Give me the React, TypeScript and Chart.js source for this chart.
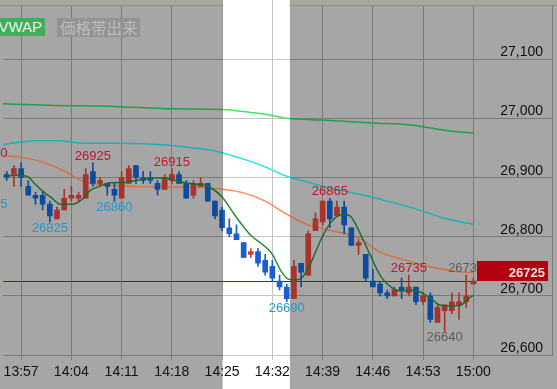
import React, { useEffect, useRef } from "react";
import { Chart, registerables } from "chart.js";

Chart.register(...registerables);

// ---- axis ranges (minutes after 13:00, price in yen) ----
const X_MIN = 54.5;
const X_MAX = 130.95;
const Y_MIN = 26600;
const Y_MAX = 27200;
const BAND_START = 85.07;
const BAND_END = 94.43;

const xTickValues = [57, 64, 71, 78, 85, 92, 99, 106, 113, 120];
const xTickLabels = ["13:57", "14:04", "14:11", "14:18", "14:25", "14:32", "14:39", "14:46", "14:53", "15:00"];
const yTickValues = [26600, 26700, 26800, 26900, 27000, 27100];

// ---- 1-minute candles ----
const candleMinutes = [
  55, 56, 57, 58, 59, 60, 61, 62, 63, 64,
  65, 66, 67, 68, 69, 70, 71, 72, 73, 74,
  75, 76, 77, 78, 79, 80, 81, 82, 83, 84,
  85, 86, 87, 88, 89, 90, 91, 92, 93, 94,
  95, 96, 97, 98, 99, 100, 101, 102, 103, 104,
  105, 106, 107, 108, 109, 110, 111, 112, 113, 114,
  115, 116, 117, 118, 119, 120,
];
const opens = [
  26905, 26905, 26915, 26885, 26870, 26870, 26855, 26830, 26845, 26865,
  26865, 26865, 26910, 26890, 26890, 26880, 26865, 26890, 26920, 26900,
  26900, 26890, 26880, 26895, 26905, 26890, 26870, 26885, 26890, 26860,
  26845, 26815, 26805, 26790, 26770, 26775, 26760, 26750, 26725, 26715,
  26695, 26755, 26735, 26810, 26825, 26860, 26835, 26850, 26815, 26785,
  26770, 26725, 26720, 26705, 26700, 26715, 26705, 26715, 26690, 26700,
  26655, 26675, 26675, 26685, 26690, 26720,
];
const highs = [
  26910, 26920, 26925, 26895, 26875, 26875, 26860, 26850, 26880, 26885,
  26875, 26915, 26925, 26900, 26890, 26890, 26910, 26920, 26920, 26910,
  26910, 26895, 26905, 26915, 26910, 26895, 26895, 26900, 26890, 26860,
  26850, 26830, 26820, 26790, 26780, 26780, 26770, 26760, 26735, 26720,
  26760, 26755, 26810, 26840, 26860, 26865, 26860, 26860, 26815, 26795,
  26770, 26745, 26725, 26710, 26715, 26730, 26735, 26715, 26705, 26705,
  26685, 26685, 26705, 26705, 26735, 26730,
];
const lows = [
  26895, 26885, 26885, 26870, 26855, 26845, 26825, 26830, 26845, 26860,
  26860, 26865, 26885, 26885, 26870, 26860, 26865, 26890, 26890, 26890,
  26890, 26870, 26880, 26890, 26890, 26865, 26865, 26885, 26860, 26830,
  26810, 26800, 26795, 26765, 26765, 26750, 26735, 26725, 26710, 26690,
  26695, 26715, 26735, 26810, 26820, 26815, 26835, 26805, 26785, 26770,
  26725, 26715, 26700, 26695, 26700, 26695, 26700, 26685, 26685, 26655,
  26655, 26640, 26670, 26660, 26680, 26720,
];
const closes = [
  26900, 26915, 26900, 26870, 26865, 26855, 26835, 26845, 26865, 26870,
  26870, 26905, 26890, 26895, 26885, 26870, 26900, 26915, 26900, 26895,
  26895, 26880, 26900, 26905, 26890, 26865, 26890, 26890, 26860, 26835,
  26815, 26805, 26795, 26765, 26775, 26755, 26740, 26730, 26715, 26695,
  26750, 26740, 26805, 26830, 26860, 26830, 26850, 26820, 26785, 26790,
  26730, 26715, 26705, 26700, 26710, 26710, 26715, 26690, 26700, 26660,
  26680, 26685, 26690, 26690, 26700, 26725,
];

// ---- moving-average style lines ----
const longLineMinutes = [54, 61, 70, 78, 85, 89, 91, 94, 99, 106, 111, 116, 120];
const longLineValues = [27025, 27022, 27020, 27016, 27015, 27010, 27007, 27000, 26997, 26992, 26989, 26980, 26975];

const cyanLineMinutes = [54, 57, 59, 62, 66, 70, 74, 78, 81, 83, 85, 88, 91, 94, 97, 100, 104, 108, 112, 116, 120];
const cyanLineValues = [26955, 26960, 26962, 26962, 26958, 26958, 26957, 26954, 26950, 26947, 26942, 26931, 26918, 26902, 26892, 26882, 26872, 26860, 26847, 26831, 26821];

const orangeLineMinutes = [54, 57, 60, 63, 66, 69, 72, 76, 80, 85, 88, 91, 94, 97, 100, 104, 107, 110, 113, 116, 119, 120];
const orangeLineValues = [26937, 26934, 26926, 26911, 26892, 26887, 26885, 26884, 26884, 26880, 26874, 26860, 26838, 26820, 26811, 26798, 26774, 26762, 26752, 26744, 26740, 26740];

const shortLineMinutes = [
  54.5, 56.6, 58.0, 58.7, 60.0, 61.4, 62.4, 64.2, 65.6, 66.5, 67.9, 69.3, 71.5, 73.9, 75.3, 76.7,
  79.4, 81.2, 83.2, 85.0, 86.4, 87.7, 89.1, 90.5, 91.9, 93.3, 94.3, 95.4, 96.1, 97.4, 98.8, 100.2,
  101.9, 103.0, 104.4, 105.7, 107.1, 108.5, 109.9, 111.3, 112.7, 114.1, 115.4, 116.8, 118.2, 119.3, 120,
];
const shortLineValues = [
  26902, 26904, 26901, 26892, 26877, 26864, 26855, 26855, 26864, 26877, 26885, 26891, 26892, 26897, 26899, 26899,
  26892, 26889, 26884, 26867, 26843, 26821, 26801, 26788, 26772, 26740, 26728, 26727, 26730, 26757, 26796, 26825,
  26838, 26833, 26801, 26767, 26733, 26715, 26708, 26710, 26706, 26695, 26684, 26683, 26684, 26695, 26701,
];

// ---- high / low annotations ----
const highLabelMinutes = [52.6, 67, 78, 100, 111];
const highLabelValues = [26930, 26925, 26915, 26865, 26735];
const lowLabelMinutes = [52.6, 61, 70, 94];
const lowLabelValues = [26865, 26825, 26860, 26690];
const grayLowMinutes = [116];
const grayLowValues = [26640];
const grayHighMinutes = [119];
const grayHighValues = [26735];

const currentPrice = closes[closes.length - 1];

const FONT = '"Liberation Sans", Arial, sans-serif';

function bandGradient(chart: any, dim: string, bright: string) {
  const xs = chart.scales && chart.scales.x;
  if (!xs || !chart.chartArea) return dim;
  const w = chart.width;
  const a = Math.max(0, Math.min(1, xs.getPixelForValue(BAND_START) / w));
  const b = Math.max(0, Math.min(1, xs.getPixelForValue(BAND_END) / w));
  const g = chart.ctx.createLinearGradient(0, 0, w, 0);
  g.addColorStop(0, dim);
  g.addColorStop(a, dim);
  g.addColorStop(a, bright);
  g.addColorStop(b, bright);
  g.addColorStop(b, dim);
  g.addColorStop(1, dim);
  return g;
}

function candleColor(ctx: any) {
  const i = ctx.dataIndex;
  if (i === undefined) return "#0f4b9c";
  const up = closes[i] >= opens[i];
  return up
    ? bandGradient(ctx.chart, "#a8322c", "#d83a3a")
    : bandGradient(ctx.chart, "#0f4b9c", "#1a5fd0");
}

const decorPlugin = {
  id: "decor",
  beforeDraw(chart: any) {
    const { ctx, width, height } = chart;
    const xs = chart.scales.x;
    ctx.save();
    ctx.fillStyle = "#a6a6a6";
    ctx.fillRect(0, 0, width, height);
    const b0 = xs.getPixelForValue(BAND_START);
    const b1 = xs.getPixelForValue(BAND_END);
    ctx.fillStyle = "#ffffff";
    ctx.fillRect(b0, 0, b1 - b0, height);
    ctx.restore();
  },
  beforeDatasetsDraw(chart: any) {
    const { ctx, chartArea } = chart;
    const xs = chart.scales.x;
    const ys = chart.scales.y;
    const b0 = xs.getPixelForValue(BAND_START);
    const b1 = xs.getPixelForValue(BAND_END);
    ctx.save();
    ctx.fillStyle = "rgba(255,255,255,0.55)";
    ctx.fillRect(b0, 0, b1 - b0, chartArea.bottom + 7);
    // current price line
    const py = Math.round(ys.getPixelForValue(currentPrice)) + 0.5;
    ctx.strokeStyle = "#8e1212";
    ctx.lineWidth = 1;
    ctx.beginPath();
    ctx.moveTo(chartArea.left, py);
    ctx.lineTo(chartArea.right - 75, py);
    ctx.stroke();
    ctx.restore();
  },
  afterDatasetsDraw(chart: any) {
    const { ctx, chartArea } = chart;
    const xs = chart.scales.x;
    const ys = chart.scales.y;
    ctx.save();
    // y-axis labels, drawn inside the plot above each grid line
    ctx.font = `14px ${FONT}`;
    ctx.fillStyle = "#111111";
    ctx.textAlign = "right";
    ctx.textBaseline = "alphabetic";
    yTickValues.forEach((v) => {
      ctx.fillText(v.toLocaleString("en-US"), chartArea.right - 9, ys.getPixelForValue(v) - 3);
    });
    // high / low labels
    ctx.font = `13px ${FONT}`;
    ctx.textAlign = "center";
    ctx.fillStyle = "#c3142d";
    highLabelMinutes.forEach((m, i) => {
      ctx.fillText(String(highLabelValues[i]), xs.getPixelForValue(m), ys.getPixelForValue(highLabelValues[i]) - 3);
    });
    ctx.fillStyle = "#2399cc";
    lowLabelMinutes.forEach((m, i) => {
      ctx.fillText(String(lowLabelValues[i]), xs.getPixelForValue(m), ys.getPixelForValue(lowLabelValues[i]) + 10);
    });
    ctx.fillStyle = "#5c5c5c";
    grayLowMinutes.forEach((m, i) => {
      ctx.fillText(String(grayLowValues[i]), xs.getPixelForValue(m), ys.getPixelForValue(grayLowValues[i]) + 10);
    });
    grayHighMinutes.forEach((m, i) => {
      ctx.fillText(String(grayHighValues[i]), xs.getPixelForValue(m), ys.getPixelForValue(grayHighValues[i]) - 3);
    });
    // current price box
    const py = Math.round(ys.getPixelForValue(currentPrice));
    const bx = chartArea.right - 75;
    ctx.fillStyle = "#b3000f";
    ctx.fillRect(bx, py - 20, 71, 20);
    ctx.fillStyle = "#f2e2e2";
    ctx.font = `bold 13px ${FONT}`;
    ctx.textAlign = "right";
    ctx.fillText(String(currentPrice), chartArea.right - 7, py - 4);
    ctx.restore();
  },
  afterDraw(chart: any) {
    const { ctx, width } = chart;
    const xs = chart.scales.x;
    const b0 = xs.getPixelForValue(BAND_START);
    const b1 = xs.getPixelForValue(BAND_END);
    ctx.save();
    ctx.fillStyle = "#a9a89c";
    ctx.fillRect(0, 0, b0, 5);
    ctx.fillRect(b1, 0, width - b1, 5);
    ctx.fillStyle = "#8c8c8c";
    ctx.fillRect(0, 5, b0, 1);
    ctx.fillRect(b1, 5, width - b1, 1);
    ctx.restore();
  },
};

export default function App() {
  const ref = useRef<HTMLCanvasElement | null>(null);

  useEffect(() => {
    const canvas = ref.current;
    if (!canvas) return;

    const bodyData = candleMinutes.map((m, i) => ({
      x: m,
      y: [Math.min(opens[i], closes[i]), Math.max(opens[i], closes[i])],
    }));
    const wickData = candleMinutes.map((m, i) => ({ x: m, y: [lows[i], highs[i]] }));
    const pts = (ms: number[], vs: number[]) => ms.map((m, i) => ({ x: m, y: vs[i] }));

    const lineBase = {
      type: "line" as const,
      pointRadius: 0,
      borderWidth: 1.5,
      cubicInterpolationMode: "monotone" as const,
      fill: false,
    };

    const chart = new Chart(canvas, {
      type: "bar",
      data: {
        datasets: [
          {
            ...lineBase,
            label: "short",
            data: pts(shortLineMinutes, shortLineValues),
            borderColor: (c: any) => bandGradient(c.chart, "#1d6b2b", "#2a8f3e"),
            order: 0,
          } as any,
          {
            type: "bar",
            label: "body",
            data: bodyData as any,
            backgroundColor: candleColor,
            barThickness: 5,
            grouped: false,
            minBarLength: 1,
            order: 1,
          } as any,
          {
            type: "bar",
            label: "wick",
            data: wickData as any,
            backgroundColor: candleColor,
            barThickness: 1,
            grouped: false,
            order: 2,
          } as any,
          {
            ...lineBase,
            label: "orange",
            data: pts(orangeLineMinutes, orangeLineValues),
            borderColor: (c: any) => bandGradient(c.chart, "#d4703f", "#ff8a55"),
            order: 3,
          } as any,
          {
            ...lineBase,
            label: "cyan",
            data: pts(cyanLineMinutes, cyanLineValues),
            borderColor: (c: any) => bandGradient(c.chart, "#19b3b6", "#22e2e8"),
            order: 4,
          } as any,
          {
            ...lineBase,
            label: "long",
            data: pts(longLineMinutes, longLineValues),
            borderColor: (c: any) => bandGradient(c.chart, "#22a046", "#3ce864"),
            order: 5,
          } as any,
        ],
      },
      options: {
        responsive: false,
        maintainAspectRatio: false,
        animation: false,
        devicePixelRatio: 1,
        events: [],
        layout: { autoPadding: false, padding: 0 },
        plugins: { legend: { display: false }, tooltip: { enabled: false } },
        scales: {
          x: {
            type: "linear",
            min: X_MIN,
            max: X_MAX,
            offset: false,
            afterBuildTicks: (s: any) => {
              s.ticks = xTickValues.map((v) => ({ value: v }));
            },
            afterFit: (s: any) => {
              s.height = 34;
            },
            grid: { color: "#7a7a7a", lineWidth: 1, drawTicks: true, tickLength: 5, offset: false },
            border: { display: false },
            ticks: {
              color: "#111111",
              font: { family: FONT, size: 14 },
              padding: 3.6,
              maxRotation: 0,
              minRotation: 0,
              autoSkip: false,
              callback: (v: any) => {
                const i = xTickValues.indexOf(Number(v));
                return i >= 0 ? xTickLabels[i] : "";
              },
            },
          },
          y: {
            type: "linear",
            position: "right",
            min: Y_MIN,
            max: Y_MAX,
            beginAtZero: false,
            afterBuildTicks: (s: any) => {
              s.ticks = yTickValues.map((v) => ({ value: v }));
            },
            afterFit: (s: any) => {
              s.width = 5;
            },
            grid: { color: "#7a7a7a", lineWidth: 1, drawTicks: false },
            border: { display: true, color: "#7a7a7a" },
            ticks: { display: false },
          },
        },
      } as any,
      plugins: [decorPlugin as any],
    });

    return () => chart.destroy();
  }, []);

  return (
    <div style={{ position: "fixed", left: 0, top: 0, width: 557, height: 389, overflow: "hidden" }}>
      <canvas ref={ref} width={557} height={389} style={{ display: "block", width: 557, height: 389 }} />
      <div
        style={{
          position: "absolute",
          left: -12,
          top: 18,
          width: 57,
          height: 18,
          background: "#3fae5c",
          color: "#e8f3ea",
          font: `15px ${FONT}`,
          lineHeight: "18px",
          textAlign: "right",
          paddingRight: 3,
          boxSizing: "border-box",
          whiteSpace: "nowrap",
        }}
      >
        VWAP
      </div>
      <div
        style={{
          position: "absolute",
          left: 57,
          top: 18,
          width: 83,
          height: 19,
          background: "#939393",
          color: "#bdbdbd",
          font: '15.5px "Noto Sans CJK JP", sans-serif',
          lineHeight: "19px",
          paddingLeft: 3,
          boxSizing: "border-box",
          overflow: "hidden",
          whiteSpace: "nowrap",
        }}
      >
        価格帯出来
      </div>
    </div>
  );
}
